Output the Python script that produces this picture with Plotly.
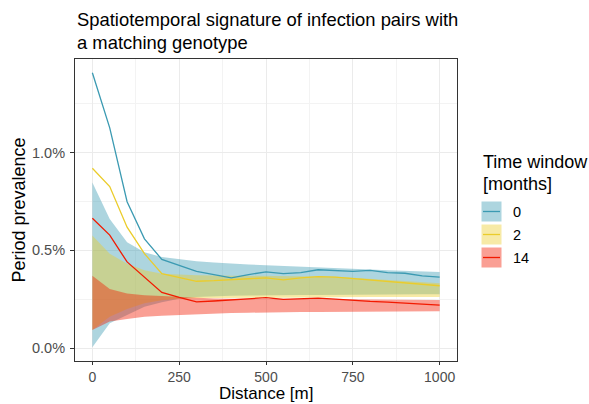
import plotly.graph_objects as go

# ---------------- data ----------------
distance = [0, 50, 100, 150, 200, 250, 300, 350, 400, 450, 500,
            550, 600, 650, 700, 750, 800, 850, 900, 950, 1000]

groups = ["0", "2", "14"]

# period prevalence (%), point estimates
prev_0 = [1.409, 1.127, 0.749, 0.559, 0.454, 0.424, 0.393, 0.376, 0.359, 0.376, 0.390,
          0.381, 0.386, 0.401, 0.398, 0.393, 0.398, 0.386, 0.383, 0.370, 0.363]
prev_2 = [0.920, 0.827, 0.619, 0.483, 0.381, 0.360, 0.342, 0.345, 0.351, 0.355, 0.359,
          0.349, 0.359, 0.366, 0.363, 0.356, 0.349, 0.342, 0.336, 0.329, 0.319]
prev_14 = [0.664, 0.578, 0.441, 0.364, 0.285, 0.259, 0.237, 0.241, 0.246, 0.254, 0.258,
           0.249, 0.251, 0.256, 0.251, 0.244, 0.239, 0.235, 0.230, 0.225, 0.220]

# confidence bands (%)
lo_0 = [0.004, 0.127, 0.169, 0.212, 0.235, 0.252, 0.262, 0.266, 0.268, 0.269, 0.271,
        0.271, 0.272, 0.272, 0.273, 0.273, 0.274, 0.274, 0.275, 0.275, 0.275]
hi_0 = [0.847, 0.661, 0.542, 0.490, 0.466, 0.455, 0.444, 0.438, 0.432, 0.428, 0.424,
        0.420, 0.415, 0.412, 0.408, 0.405, 0.402, 0.399, 0.396, 0.393, 0.390]
lo_2 = [0.093, 0.161, 0.200, 0.229, 0.245, 0.252, 0.255, 0.256, 0.257, 0.257, 0.258,
        0.258, 0.259, 0.259, 0.260, 0.260, 0.261, 0.261, 0.262, 0.262, 0.262]
hi_2 = [0.576, 0.483, 0.432, 0.398, 0.381, 0.376, 0.373, 0.372, 0.371, 0.370, 0.370,
        0.368, 0.367, 0.367, 0.365, 0.360, 0.355, 0.350, 0.345, 0.338, 0.332]
lo_14 = [0.093, 0.136, 0.149, 0.161, 0.166, 0.170, 0.174, 0.177, 0.179, 0.181, 0.183,
         0.184, 0.185, 0.185, 0.186, 0.186, 0.187, 0.187, 0.188, 0.188, 0.189]
hi_14 = [0.370, 0.302, 0.280, 0.271, 0.266, 0.262, 0.255, 0.254, 0.253, 0.253, 0.252,
         0.252, 0.252, 0.252, 0.251, 0.250, 0.249, 0.248, 0.247, 0.247, 0.246]

x_ticks = [0, 250, 500, 750, 1000]
y_ticks = [0.0, 0.005, 0.010]
y_tick_labels = ["0.0%", "0.5%", "1.0%"]

title_lines = ["Spatiotemporal signature of infection pairs with", "a matching genotype"]
legend_title_lines = ["Time window", "[months]"]
x_title = "Distance [m]"
y_title = "Period prevalence"

# ---------------- style ----------------
line_colors = {"0": "#3B9AB2", "2": "#EBCC2A", "14": "#F21A00"}
fill_colors = {"0": "rgba(59,154,178,0.42)", "2": "rgba(235,204,42,0.42)",
               "14": "rgba(242,26,0,0.42)"}
FONT = "Liberation Sans, Arial, sans-serif"

series = {"0": (prev_0, lo_0, hi_0), "2": (prev_2, lo_2, hi_2), "14": (prev_14, lo_14, hi_14)}

fig = go.Figure()
for g in groups:
    _, lo, hi = series[g]
    fig.add_trace(go.Scatter(x=distance, y=[v / 100 for v in lo], mode="lines",
                             line=dict(width=0, color=line_colors[g]), showlegend=False,
                             hoverinfo="skip"))
    fig.add_trace(go.Scatter(x=distance, y=[v / 100 for v in hi], mode="lines",
                             line=dict(width=0, color=line_colors[g]), fill="tonexty",
                             fillcolor=fill_colors[g], showlegend=False, hoverinfo="skip"))
for g in groups:
    p, _, _ = series[g]
    fig.add_trace(go.Scatter(x=distance, y=[v / 100 for v in p], mode="lines",
                             line=dict(width=1.3, color=line_colors[g]), name=g,
                             showlegend=False))

L, R, T, B = 75, 132, 59, 43
W, H = 589, 404
pw, ph = W - L - R, H - T - B

def px_x(px):
    return (px - L) / pw

def px_y(py):
    return (H - B - py) / ph

annotations = []
# title (two lines)
for txt, yc in zip(title_lines, [20.0, 43.0]):
    annotations.append(dict(text=txt, xref="paper", yref="paper", x=0, y=px_y(yc),
                            xanchor="left", yanchor="middle", showarrow=False,
                            font=dict(family=FONT, size=18.4, color="black")))
# x axis title
annotations.append(dict(text=x_title, xref="paper", yref="paper", x=0.5, y=px_y(404),
                        xanchor="center", yanchor="bottom", showarrow=False, borderpad=0,
                        font=dict(family=FONT, size=17, color="black")))
# legend title
for txt, yc in zip(legend_title_lines, [162.0, 183.5]):
    annotations.append(dict(text=txt, xref="paper", yref="paper", x=px_x(480.5), y=px_y(yc),
                            xanchor="left", yanchor="middle", showarrow=False,
                            font=dict(family=FONT, size=18, color="black")))

shapes = []
key_tops = [201.0, 224.0, 247.0]
key_h = 21.0
for g, top in zip(groups, key_tops):
    shapes.append(dict(type="rect", xref="paper", yref="paper",
                       x0=px_x(481), x1=px_x(502), y0=px_y(top), y1=px_y(top + key_h),
                       fillcolor=fill_colors[g], line=dict(width=1, color="white"), layer="above"))
    yc = top + key_h / 2
    shapes.append(dict(type="line", xref="paper", yref="paper",
                       x0=px_x(483), x1=px_x(500), y0=px_y(yc), y1=px_y(yc),
                       line=dict(width=1.3, color=line_colors[g]), layer="above"))
    annotations.append(dict(text=g, xref="paper", yref="paper", x=px_x(511), y=px_y(yc),
                            xanchor="left", yanchor="middle", showarrow=False,
                            font=dict(family=FONT, size=14.5, color="black")))

fig.update_layout(
    width=W, height=H,
    margin=dict(l=L, r=R, t=T, b=B, pad=0),
    paper_bgcolor="white", plot_bgcolor="white",
    font=dict(family=FONT, color="#4D4D4D"),
    showlegend=False,
    annotations=annotations,
    shapes=shapes,
)
fig.update_xaxes(
    range=[-50, 1050], tickvals=x_ticks, ticktext=[str(v) for v in x_ticks],
    showgrid=True, gridcolor="#EBEBEB", gridwidth=1,
    minor=dict(tickvals=[125, 375, 625, 875], showgrid=True, gridcolor="#F3F3F3", gridwidth=0.6),
    showline=True, linecolor="#333333", linewidth=1, mirror=True,
    ticks="outside", ticklen=3, tickcolor="#333333", tickwidth=1,
    tickfont=dict(family=FONT, size=14, color="#4D4D4D"),
    zeroline=False, automargin=False,
)
fig.update_yaxes(
    range=[-0.00066, 0.014794], tickvals=y_ticks, ticktext=y_tick_labels,
    showgrid=True, gridcolor="#EBEBEB", gridwidth=1,
    minor=dict(tickvals=[0.0025, 0.0075, 0.0125], showgrid=True, gridcolor="#F3F3F3", gridwidth=0.6),
    showline=True, linecolor="#333333", linewidth=1, mirror=True,
    ticks="outside", ticklen=4, tickcolor="#333333", tickwidth=1,
    ticklabelstandoff=2,
    tickfont=dict(family=FONT, size=14.5, color="#4D4D4D"),
    title=dict(text=y_title, font=dict(family=FONT, size=18, color="black"), standoff=1),
    zeroline=False, automargin=False,
)

fig.write_html("out.html")
